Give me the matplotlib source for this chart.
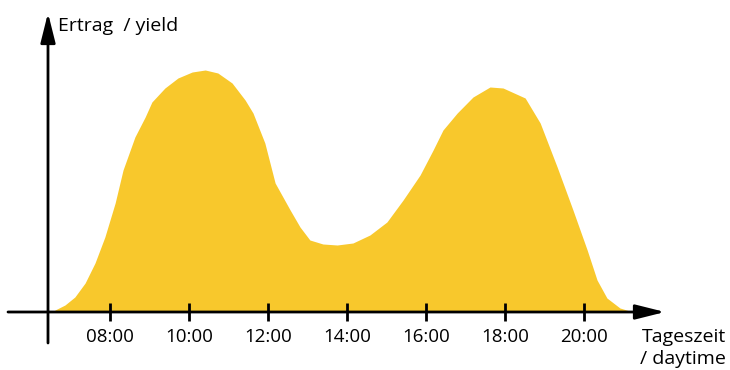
import numpy as np
import matplotlib
matplotlib.use("Agg")
import matplotlib.pyplot as plt

# -------------------------------
# Data
# -------------------------------
hours = [6.56, 6.61, 6.86, 7.11, 7.37, 7.62, 7.87, 8.13, 8.33, 8.63, 8.89,
         9.06, 9.39, 9.72, 10.08, 10.41, 10.73, 11.09, 11.42, 11.62, 11.92,
         12.18, 12.56, 12.81, 13.06, 13.39, 13.75, 14.15, 14.58, 15.01, 15.42,
         15.85, 16.18, 16.43, 16.79, 17.19, 17.62, 17.95, 18.51, 18.89, 19.32,
         19.72, 20.08, 20.33, 20.58, 20.91, 21.24]
yield_vals = [0, 2, 7, 15, 29, 49, 75, 109, 142, 175, 195,
              210, 224, 234, 240, 242, 239, 229, 212, 199, 169,
              129, 102, 85, 72, 68, 67, 69, 77, 90, 112,
              137, 162, 182, 199, 215, 225, 224, 214, 189, 145,
              102, 62, 32, 14, 4, 0]
tick_hours = [8, 10, 12, 14, 16, 18, 20]
tick_labels = ["08:00", "10:00", "12:00", "14:00", "16:00", "18:00", "20:00"]

FONT = "Open Sans"
YELLOW = "#F8C82C"

# -------------------------------
# Figure
# -------------------------------
fig = plt.figure(figsize=(7.3, 3.7), dpi=100)
ax = fig.add_axes([0, 0, 1, 1])
px = 39.5  # pixels per hour
ax.set_xlim(8 - 110 / px, 8 + 620 / px)
ax.set_ylim(-58, 312)
ax.axis("off")

ax.fill_between(hours, 0, yield_vals, color=YELLOW, lw=0)

# axes with arrow heads
arrow = dict(arrowstyle="-|>,head_length=1.8,head_width=0.45",
             mutation_scale=10, lw=2, color="black", shrinkA=0, shrinkB=0)
ax.annotate("", xy=(8 + 555 / px, 0), xytext=(8 - 102 / px, 0), arrowprops=arrow)
ax.annotate("", xy=(8 - 62 / px, 299), xytext=(8 - 62 / px, -31), arrowprops=arrow)

# tick marks and labels
ax.vlines(tick_hours, -9, 9, color="black", lw=2)
for h, lab in zip(tick_hours, tick_labels):
    ax.text(h, -25, lab, ha="center", va="center", fontsize=13.5, family=FONT)

ax.text(8 - 52 / px, 286, "Ertrag  / yield", ha="left", va="center",
        fontsize=14, family=FONT)
ax.text(8 + 532 / px, -25, "Tageszeit", ha="left", va="center",
        fontsize=14, family=FONT)
ax.text(8 + 530 / px, -47, "/ daytime", ha="left", va="center",
        fontsize=14, family=FONT)

plt.savefig("out.png", dpi=100)
